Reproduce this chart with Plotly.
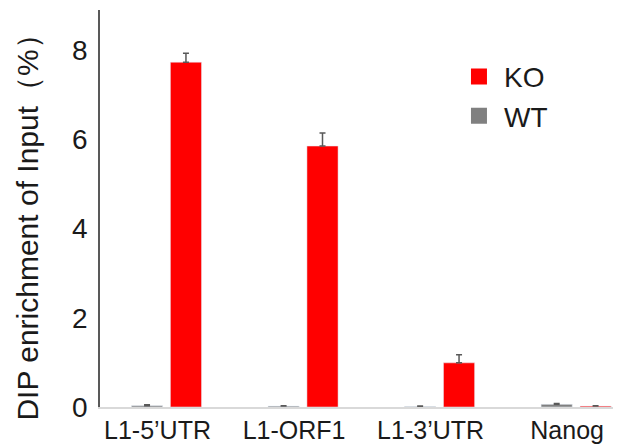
import plotly.graph_objects as go

categories = ["L1-5’UTR", "L1-ORF1", "L1-3’UTR", "Nanog"]
wt_values = [0.03, 0.02, 0.01, 0.06]
wt_errors = [0.02, 0.01, 0.01, 0.02]
ko_values = [7.73, 5.85, 0.99, 0.02]
ko_errors = [0.20, 0.29, 0.18, 0.01]
y_ticks = [0, 2, 4, 6, 8]
y_title = "DIP enrichment of Input（%）"

RED = "#FF0000"
GRAY = "#808080"
ERR = "#595959"
FONT = "Liberation Sans, Arial, sans-serif"

fig = go.Figure()
fig.add_trace(go.Bar(
    x=categories, y=wt_values, name="WT", marker_color=GRAY, showlegend=False,
    error_y=dict(type="data", array=wt_errors, arrayminus=[0]*len(wt_errors),
                 symmetric=False, color=ERR, thickness=1.5, width=3),
))
fig.add_trace(go.Bar(
    x=categories, y=ko_values, name="KO", marker_color=RED, showlegend=False,
    error_y=dict(type="data", array=ko_errors, arrayminus=[0]*len(ko_errors),
                 symmetric=False, color=ERR, thickness=1.5, width=3),
))
# legend entries
fig.add_trace(go.Scatter(x=[None], y=[None], mode="markers", name="KO",
                         marker=dict(symbol="square", size=16, color=RED)))
fig.add_trace(go.Scatter(x=[None], y=[None], mode="markers", name="WT",
                         marker=dict(symbol="square", size=16, color=GRAY)))

# page body has an 8px margin, so the figure is sized/offset to compensate
fig.update_layout(
    width=630, height=440,
    margin=dict(l=92, r=25, t=2, b=41),
    paper_bgcolor="white", plot_bgcolor="white",
    barmode="group", bargap=0.43, bargroupgap=0.2,
    font=dict(family=FONT, size=24, color="#1a1a1a"),
    legend=dict(x=0.69, y=0.895, xanchor="left", yanchor="top",
                bgcolor="rgba(0,0,0,0)", font=dict(size=28),
                tracegroupgap=0, itemwidth=40),
    annotations=[dict(text=y_title, textangle=-90, xref="paper", yref="paper",
                      x=-0.142, y=0.47, xanchor="center", yanchor="middle",
                      showarrow=False, font=dict(size=30))],
)
fig.update_xaxes(
    type="category", range=[-0.487, 3.27], automargin=False,
    showline=True, linecolor="#d9d9d9", linewidth=1.5,
    showgrid=False, ticks="", ticklabelshift=-9, ticklabelstandoff=0,
    tickfont=dict(size=25),
)
fig.update_yaxes(
    range=[0, 8.9], tickvals=y_ticks, automargin=False,
    showline=True, linecolor="#595959", linewidth=1.5,
    showgrid=False, zeroline=False, ticks="", ticklabelstandoff=5,
    tickfont=dict(size=28),
)

fig.write_html("out.html")
